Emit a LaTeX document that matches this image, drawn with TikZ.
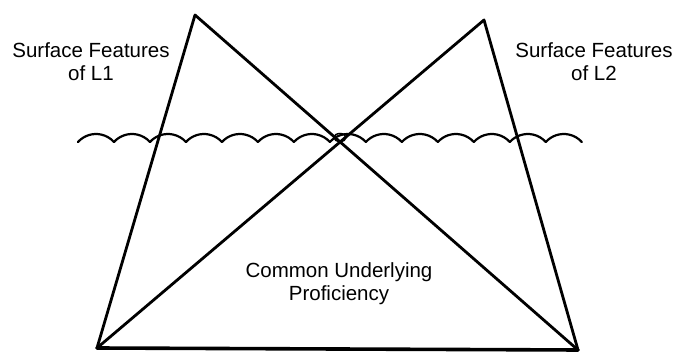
\documentclass[tikz,border=0pt]{standalone}
\usepackage{fontspec}
\setmainfont{Liberation Sans}
\begin{document}
\begin{tikzpicture}[x=1pt,y=1pt,
  edge/.style={line width=2.8pt, line cap=round, line join=round},
  base/.style={line width=3.6pt, line cap=round},
  wave/.style={line width=2.2pt, line join=round, line cap=round},
  label/.style={align=center, inner sep=0pt, font=\fontsize{20.5}{23}\selectfont}]
\useasboundingbox (0,0) rectangle (676,355);
% vertices
\coordinate (A1) at (195,340);
\coordinate (A2) at (484,335);
\coordinate (BL) at (97,7);
\coordinate (BR) at (578,5);
% triangles
\draw[edge] (BL) -- (A1) -- (BR);
\draw[edge] (BL) -- (A2) -- (BR);
\draw[base] (BL) -- (BR);
% waterline
\coordinate (W0) at (78,213);
\draw[wave] (W0) foreach \i in {1,...,14} { arc[start angle=137.9, end angle=42.1, radius=24.25] };
\draw[line width=1.5pt] (340,217.5) ellipse [x radius=6, y radius=4];
% labels
\node[label] (l1) at (91,293) {Surface Features\\of L1};
\node[label] (l2) at (594,293) {Surface Features\\of L2};
\node[label] (cup) at (339,71) {Common Underlying\\Proficiency};
\end{tikzpicture}
\end{document}
